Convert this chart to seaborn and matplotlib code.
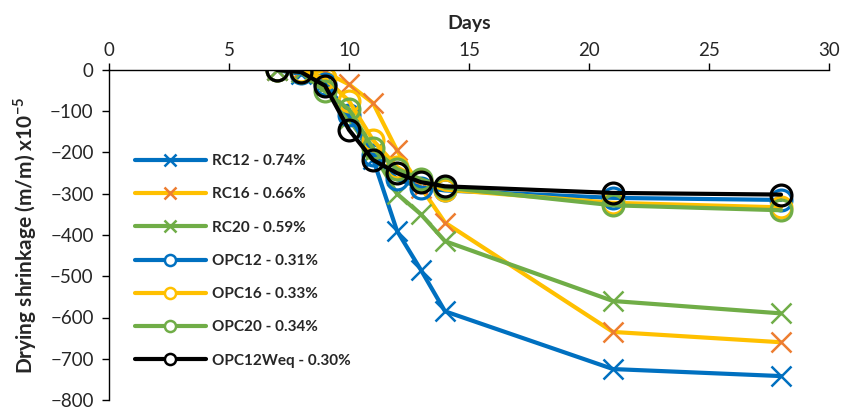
import matplotlib
matplotlib.use("Agg")
import matplotlib.pyplot as plt
import seaborn as sns
import pandas as pd
from matplotlib.lines import Line2D

# Measurement days
days = [7, 8, 9, 10, 11, 12, 13, 14, 21, 28]

# Drying shrinkage (m/m) x10^-5 for each mix
rc12 = [0, -10, -30, -110, -215, -390, -485, -585, -725, -742]
rc16 = [0, 0, -5, -35, -80, -195, -285, -370, -635, -660]
rc20 = [0, -5, -40, -120, -200, -300, -350, -415, -560, -590]
opc12 = [0, -8, -35, -110, -205, -265, -285, -292, -310, -315]
opc16 = [0, -3, -20, -75, -170, -235, -270, -290, -322, -333]
opc20 = [0, -5, -52, -95, -190, -240, -265, -285, -328, -340]
opc12weq = [0, -5, -38, -145, -218, -250, -272, -282, -298, -302]

labels = ["RC12 - 0.74%", "RC16 - 0.66%", "RC20 - 0.59%",
          "OPC12 - 0.31%", "OPC16 - 0.33%", "OPC20 - 0.34%",
          "OPC12Weq - 0.30%"]
series = [rc12, rc16, rc20, opc12, opc16, opc20, opc12weq]

x_ticks = [0, 5, 10, 15, 20, 25, 30]
y_ticks = [0, -100, -200, -300, -400, -500, -600, -700, -800]

BLUE, ORANGE, GOLD, GREEN, BLACK = "#0070C0", "#ED7D31", "#FFC000", "#70AD47", "#000000"
line_colors = [BLUE, GOLD, GREEN, BLUE, GOLD, GREEN, BLACK]
marker_colors = [BLUE, ORANGE, GREEN, BLUE, GOLD, GREEN, BLACK]
markers = ["x", "x", "x", "o", "o", "o", "o"]

sns.set_theme(style="white")
plt.rcParams["font.family"] = ["Lato", "DejaVu Sans"]
plt.rcParams["mathtext.fontset"] = "custom"
plt.rcParams["mathtext.bf"] = "Lato:bold"
plt.rcParams["mathtext.rm"] = "Lato"

fig = plt.figure(figsize=(8.45, 4.09), dpi=100)
ax = fig.add_axes([109 / 845, 1 - 400 / 409, 720 / 845, 330 / 409])

handles = []
for vals, lab, lc, mc, mk in zip(series, labels, line_colors, marker_colors, markers):
    df = pd.DataFrame({"day": days, "shrink": vals})
    if mk == "x":
        kw = dict(marker="x", markersize=14, markeredgewidth=1.8,
                  markeredgecolor=mc)
    else:
        kw = dict(marker="o", markersize=15, markeredgewidth=2.3,
                  markeredgecolor=mc, markerfacecolor="none")
    sns.lineplot(data=df, x="day", y="shrink", ax=ax, color=lc, linewidth=3,
                 legend=False, **kw)
    if mk == "x":
        h = Line2D([], [], color=lc, linewidth=3, marker="x", markersize=8,
                   markeredgewidth=1.8, markeredgecolor=mc)
    else:
        h = Line2D([], [], color=lc, linewidth=3, marker="o", markersize=8,
                   markeredgewidth=1.8, markeredgecolor=mc,
                   markerfacecolor="white")
    handles.append(h)

ax.set_xlim(0, 30)
ax.set_ylim(-800, 0)
ax.set_xticks(x_ticks)
ax.set_yticks(y_ticks)
ax.xaxis.tick_top()
ax.xaxis.set_label_position("top")
ax.tick_params(axis="x", which="major", direction="out", length=5, width=1,
               color="black", labelsize=13.5, pad=3, top=True, bottom=False)
ax.tick_params(axis="y", which="major", direction="out", length=5, width=1,
               color="black", labelsize=13.5, pad=6, left=True)
for side in ["right", "bottom"]:
    ax.spines[side].set_visible(False)
for side in ["top", "left"]:
    ax.spines[side].set_color("black")
    ax.spines[side].set_linewidth(1)

ax.set_xlabel("Days", fontsize=14, fontweight="bold", labelpad=9)
ax.set_ylabel(r"Drying shrinkage (m/m) x10$^{\mathbf{-5}}$", fontsize=15,
              fontweight="bold", labelpad=8)

leg = ax.legend(handles, labels, loc="upper left",
                bbox_to_anchor=(14 / 720, 1 - 72 / 330), frameon=False,
                handlelength=4.6, labelspacing=1.26, handletextpad=0.45,
                borderpad=0.3, prop={"size": 11, "weight": "bold"})

fig.savefig("out.png", dpi=100)
